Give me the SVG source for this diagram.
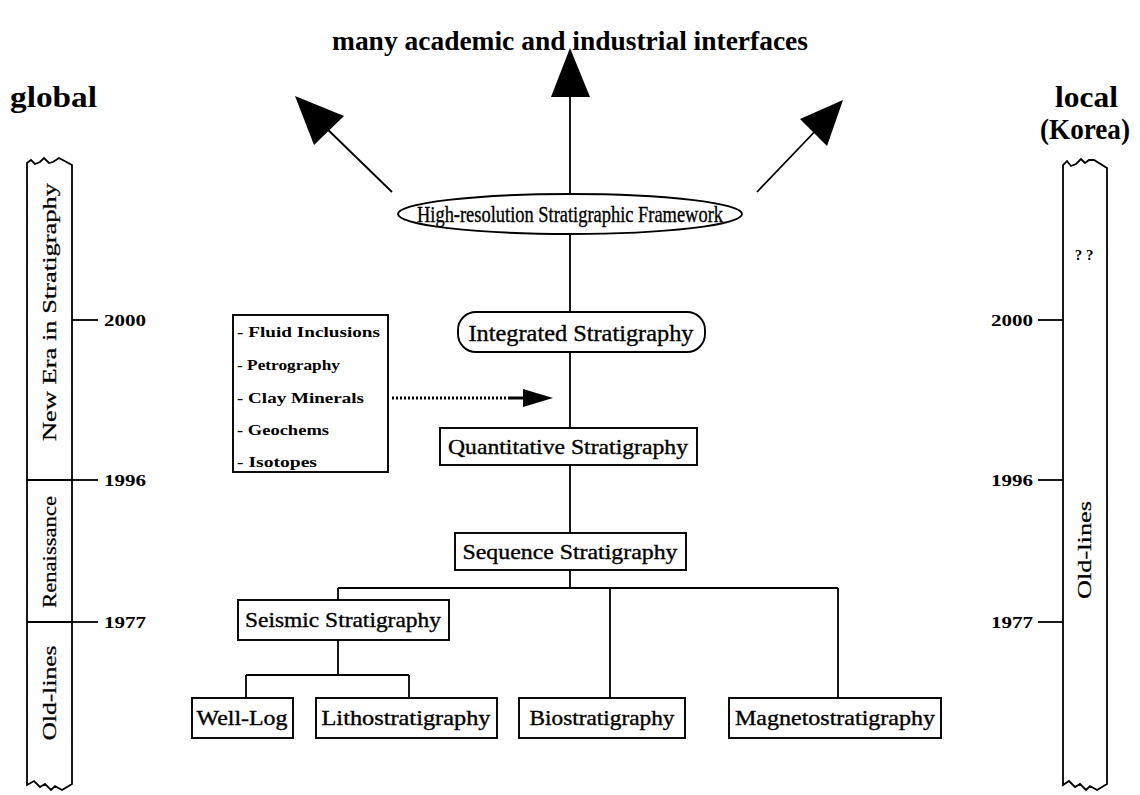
<svg xmlns="http://www.w3.org/2000/svg" width="1140" height="795" viewBox="0 0 1140 795">
<style>
text{font-family:"Liberation Serif","DejaVu Serif",serif;fill:#000}
.hd{font-weight:bold;font-size:29px}
.yr{font-weight:bold;font-size:16px}
.bx{font-size:21px;stroke:#000;stroke-width:0.35}
.sm{font-size:15px;font-weight:bold}
.vt{font-size:19px;stroke:#000;stroke-width:0.25}
.ln{stroke:#000;stroke-width:1.8;fill:none}
.nd{stroke:#000;stroke-width:1.9;fill:#fff}
</style>
<text x="570" y="50" text-anchor="middle" class="hd" style="font-size:27px" textLength="476" lengthAdjust="spacingAndGlyphs">many academic and industrial interfaces</text>
<text x="10" y="107" class="hd" textLength="87" lengthAdjust="spacingAndGlyphs">global</text>
<text x="1055" y="107" class="hd" textLength="63" lengthAdjust="spacingAndGlyphs">local</text>
<text x="1040" y="139" class="hd" textLength="90" lengthAdjust="spacingAndGlyphs">(Korea)</text>

<g id="timeline-global">
<path class="ln" d="M27,172 L27,163 L31,160 L35,164 L40,162 L44,158 L49,163 L53,162 L59,158 L72,165 L72,784 L62,790 L55,786 L51,790 L45,784 L40,787 L34,781 L27,785 Z"/>
<line class="ln" x1="27" y1="480" x2="72" y2="480"/>
<line class="ln" x1="27" y1="622" x2="72" y2="622"/>
<line class="ln" x1="72" y1="320" x2="98" y2="320"/>
<line class="ln" x1="72" y1="480" x2="98" y2="480"/>
<line class="ln" x1="72" y1="622" x2="98" y2="622"/>
<text x="104" y="326" class="yr" textLength="42" lengthAdjust="spacingAndGlyphs">2000</text>
<text x="104" y="486" class="yr" textLength="42" lengthAdjust="spacingAndGlyphs">1996</text>
<text x="104" y="628" class="yr" textLength="42" lengthAdjust="spacingAndGlyphs">1977</text>
<text transform="translate(56,312) rotate(-90)" text-anchor="middle" class="vt" textLength="258" lengthAdjust="spacingAndGlyphs">New Era in Stratigraphy</text>
<text transform="translate(56,552) rotate(-90)" text-anchor="middle" class="vt" textLength="112" lengthAdjust="spacingAndGlyphs">Renaissance</text>
<text transform="translate(56,693) rotate(-90)" text-anchor="middle" class="vt" textLength="95" lengthAdjust="spacingAndGlyphs">Old-lines</text>
</g>

<g id="timeline-local">
<path class="ln" d="M1063,172 L1063,165 L1067,161 L1071,166 L1076,164 L1081,159 L1085,163 L1089,160 L1094,160 L1107,168 L1107,784 L1097,790 L1090,786 L1086,790 L1080,784 L1075,787 L1069,781 L1063,785 Z"/>
<line class="ln" x1="1038" y1="320" x2="1063" y2="320"/>
<line class="ln" x1="1038" y1="480" x2="1063" y2="480"/>
<line class="ln" x1="1038" y1="622" x2="1063" y2="622"/>
<text x="1033" y="326" text-anchor="end" class="yr" textLength="42" lengthAdjust="spacingAndGlyphs">2000</text>
<text x="1033" y="486" text-anchor="end" class="yr" textLength="42" lengthAdjust="spacingAndGlyphs">1996</text>
<text x="1033" y="628" text-anchor="end" class="yr" textLength="42" lengthAdjust="spacingAndGlyphs">1977</text>
<text x="1084" y="260" text-anchor="middle" class="sm">? ?</text>
<text transform="translate(1091,550) rotate(-90)" text-anchor="middle" class="vt" textLength="98" lengthAdjust="spacingAndGlyphs">Old-lines</text>
</g>

<g id="connectors">
<line class="ln" x1="570" y1="195" x2="570" y2="90"/>
<polygon points="570,48 551,97 590,97" fill="#000"/>
<line class="ln" x1="392" y1="192" x2="322" y2="124"/>
<polygon points="295,96 314,145 344,116" fill="#000"/>
<line class="ln" x1="757" y1="192" x2="822" y2="124"/>
<polygon points="843,100 800,119 827,146" fill="#000"/>
<line class="ln" x1="570" y1="234" x2="570" y2="533"/>
<line class="ln" x1="570" y1="570" x2="570" y2="588"/>
<line class="ln" x1="338" y1="588" x2="838" y2="588"/>
<line class="ln" x1="338" y1="588" x2="338" y2="600"/>
<line class="ln" x1="610" y1="588" x2="610" y2="698"/>
<line class="ln" x1="838" y1="588" x2="838" y2="698"/>
<line class="ln" x1="338" y1="640" x2="338" y2="675"/>
<line class="ln" x1="246" y1="675" x2="409" y2="675"/>
<line class="ln" x1="246" y1="675" x2="246" y2="698"/>
<line class="ln" x1="409" y1="675" x2="409" y2="698"/>
<line x1="392" y1="398" x2="512" y2="398" stroke="#000" stroke-width="3" stroke-dasharray="2,2"/>
<line x1="510" y1="398" x2="526" y2="398" stroke="#000" stroke-width="3"/>
<polygon points="553,398 523,389 523,407" fill="#000"/>
</g>

<g id="framework">
<ellipse class="nd" cx="570" cy="214" rx="172" ry="20"/>
<text x="570" y="222" text-anchor="middle" style="font-size:23px;stroke:#000;stroke-width:0.35" textLength="306" lengthAdjust="spacingAndGlyphs">High-resolution Stratigraphic Framework</text>
</g>
<g id="integrated">
<rect class="nd" x="458" y="312" width="247" height="40" rx="18"/>
<text x="581" y="341" text-anchor="middle" style="font-size:24px;stroke:#000;stroke-width:0.35" textLength="225" lengthAdjust="spacingAndGlyphs">Integrated Stratigraphy</text>
</g>
<g id="inputs">
<rect class="nd" x="233" y="315" width="155" height="157"/>
<text x="237" y="337" class="sm" textLength="143" lengthAdjust="spacingAndGlyphs">- Fluid Inclusions</text>
<text x="237" y="370" class="sm" textLength="103" lengthAdjust="spacingAndGlyphs">- Petrography</text>
<text x="237" y="403" class="sm" textLength="127" lengthAdjust="spacingAndGlyphs">- Clay Minerals</text>
<text x="237" y="435" class="sm" textLength="92" lengthAdjust="spacingAndGlyphs">- Geochems</text>
<text x="237" y="467" class="sm" textLength="80" lengthAdjust="spacingAndGlyphs">- Isotopes</text>
</g>
<g id="quantitative">
<rect class="nd" x="440" y="428" width="257" height="37"/>
<text x="568" y="454" text-anchor="middle" class="bx" textLength="240" lengthAdjust="spacingAndGlyphs">Quantitative Stratigraphy</text>
</g>
<g id="sequence">
<rect class="nd" x="455" y="533" width="231" height="37"/>
<text x="570" y="559" text-anchor="middle" class="bx" textLength="215" lengthAdjust="spacingAndGlyphs">Sequence Stratigraphy</text>
</g>
<g id="seismic">
<rect class="nd" x="238" y="600" width="211" height="40"/>
<text x="343" y="627" text-anchor="middle" class="bx" textLength="196" lengthAdjust="spacingAndGlyphs">Seismic Stratigraphy</text>
</g>
<g id="welllog">
<rect class="nd" x="192" y="698" width="101" height="40"/>
<text x="242" y="725" text-anchor="middle" class="bx" textLength="91" lengthAdjust="spacingAndGlyphs">Well-Log</text>
</g>
<g id="litho">
<rect class="nd" x="316" y="698" width="181" height="40"/>
<text x="406" y="725" text-anchor="middle" class="bx" textLength="169" lengthAdjust="spacingAndGlyphs">Lithostratigraphy</text>
</g>
<g id="bio">
<rect class="nd" x="519" y="698" width="166" height="40"/>
<text x="602" y="725" text-anchor="middle" class="bx" textLength="145" lengthAdjust="spacingAndGlyphs">Biostratigraphy</text>
</g>
<g id="magneto">
<rect class="nd" x="729" y="698" width="212" height="40"/>
<text x="835" y="725" text-anchor="middle" class="bx" textLength="200" lengthAdjust="spacingAndGlyphs">Magnetostratigraphy</text>
</g>
</svg>
